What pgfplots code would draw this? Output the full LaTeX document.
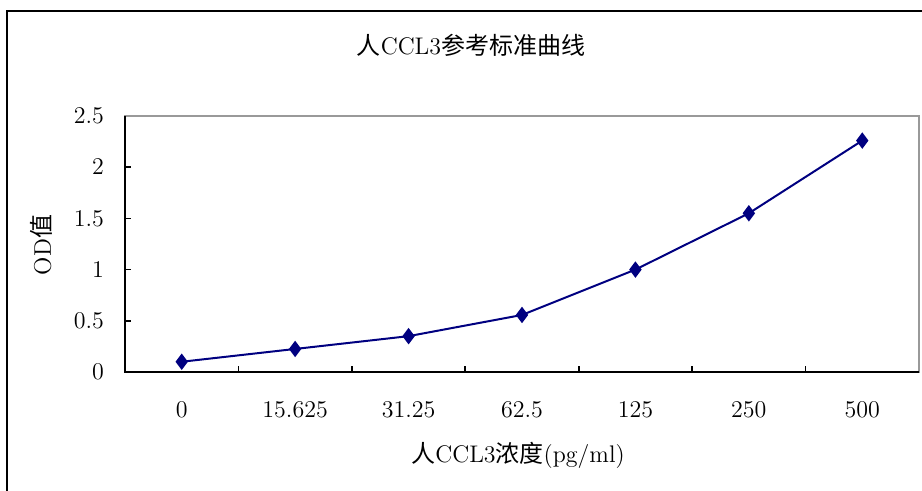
\documentclass[border=0pt]{standalone}
\usepackage{fontspec}
\usepackage{pgfplots}
\pgfplotsset{compat=1.18}
\newfontfamily\cjk{Noto Sans CJK SC}
\definecolor{navyline}{RGB}{0,0,128}

\begin{document}
\begin{tikzpicture}
\useasboundingbox (0,0) rectangle (461pt,-245.5pt);
% outer chart frame (right and bottom edges lie outside the page)
\draw[line width=1pt] (3.5pt,-260pt) -- (3.5pt,-5.5pt) -- (470pt,-5.5pt);
\node[font=\fontsize{12}{14}\selectfont] at (235.5pt,-22.5pt) {{\cjk 人}CCL3{\cjk 参考标准曲线}};
\begin{axis}[
    at={(62.5pt,-186pt)}, anchor=south west,
    scale only axis,
    width=397pt, height=128pt,
    xmin=-0.5, xmax=6.5,
    ymin=0, ymax=2.5,
    clip=false,
    axis line style={gray!80, line width=0.8pt},
    tick style={black, line width=0.8pt},
    ytick={0,0.5,1,1.5,2,2.5},
    ytick pos=left, xtick pos=bottom,
    tick align=inside,
    major tick length=3pt,
    xtick={-0.5,0.5,1.5,2.5,3.5,4.5,5.5,6.5},
    x tick label as interval,
    xticklabels={0,15.625,31.25,62.5,125,250,500},
    ticklabel style={font=\fontsize{12}{14}\selectfont},
    yticklabel style={xshift=-7pt},
    xticklabel style={yshift=-11pt},
    xlabel={{\cjk 人}CCL3{\cjk 浓度}(pg/ml)},
    ylabel={OD{\cjk 值}},
    label style={font=\fontsize{12}{14}\selectfont},
    xlabel style={at={(axis description cs:0.495,-0.324)}, anchor=center},
    ylabel style={at={(axis description cs:-0.105,0.496)}, anchor=center},
]
\addplot[color=navyline, line width=1pt, mark=diamond*, mark size=3.3pt,
    mark options={fill=navyline, draw=navyline}]
    coordinates {
    (0,0.10)(1,0.225)(2,0.35)(3,0.557)(4,1.00)(5,1.55)(6,2.26)
    };
\draw[black, line width=1pt] (rel axis cs:0,1) -- (rel axis cs:0,0) -- (rel axis cs:1,0);
\end{axis}
\end{tikzpicture}
\end{document}
